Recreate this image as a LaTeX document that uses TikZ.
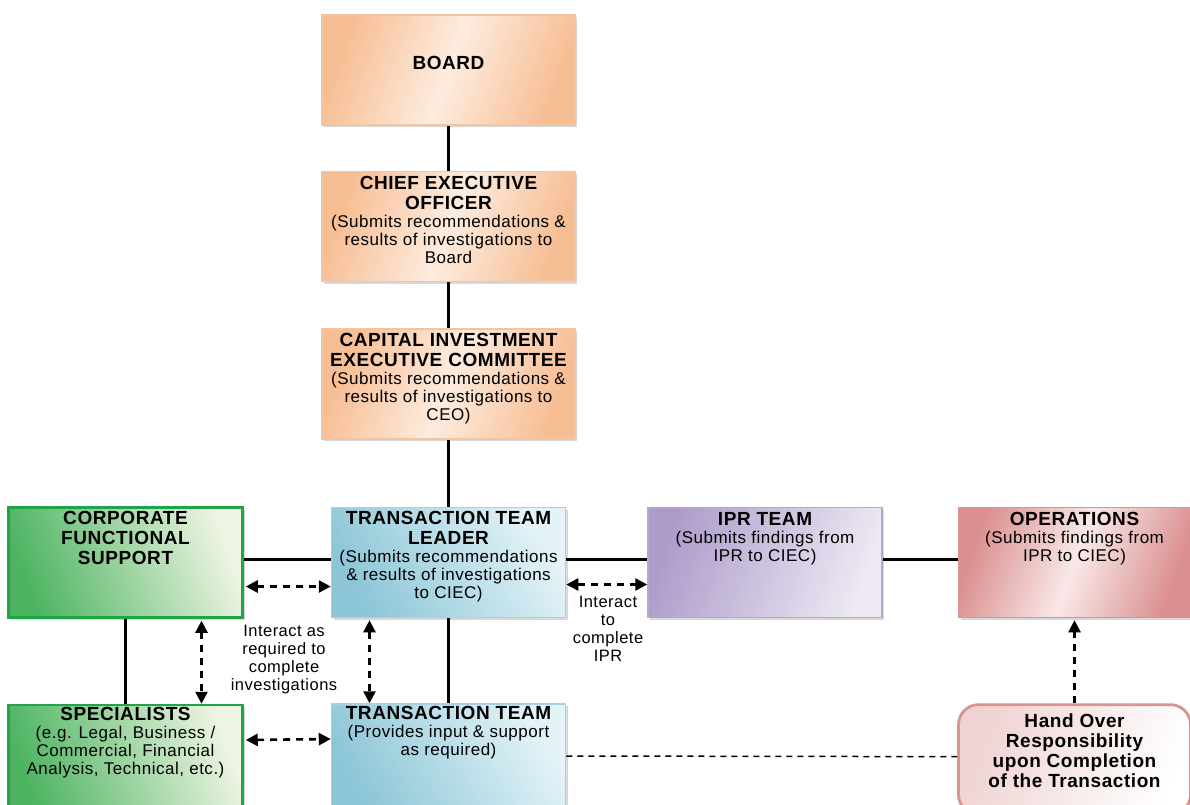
\documentclass[tikz,border=0pt]{standalone}
\usepackage{fontspec}
\setmainfont{Liberation Sans}[LetterSpace=3.0]
\usepackage{tikz}
\usetikzlibrary{positioning, arrows.meta, shadows}
\usepackage{xcolor}
\definecolor{orBord}{HTML}{F3C4A0}
\definecolor{orDark}{HTML}{F7BE94}
\definecolor{orLight}{HTML}{FDECDF}
\definecolor{grBord}{HTML}{1FA547}
\definecolor{grDark}{HTML}{4DB462}
\definecolor{grLight}{HTML}{EDF4E2}
\definecolor{blBord}{HTML}{A6D3E2}
\definecolor{blDark}{HTML}{8CC6D7}
\definecolor{blLight}{HTML}{E4F3F8}
\definecolor{puBord}{HTML}{B6A8D0}
\definecolor{puDark}{HTML}{AD9CCA}
\definecolor{puLight}{HTML}{EEE9F4}
\definecolor{rdBord}{HTML}{D89393}
\definecolor{rdDark}{HTML}{DB9090}
\definecolor{rdLight}{HTML}{F9E8E8}
\definecolor{hoFill}{HTML}{F0D2D2}
\tikzstyle{ubox} = [%
  rectangle,
  minimum width=234pt,
  minimum height=110pt,
  align=center,
  text centered,
  inner sep=2pt,
  line width=1.5pt,
  drop shadow={shadow xshift=2pt,shadow yshift=-2pt,fill=black!30,opacity=0.5}
]
\newcommand{\hd}[1]{{\bfseries\fontsize{19}{20.5}\selectfont #1}}

\begin{document}
\begin{tikzpicture}[%
  x=1pt,y=-1pt,
  every node/.style={%
    font=\fontsize{17}{18}\selectfont,
    text=black,
    text centered,
    align=center
  },
  orbox/.style={ubox,minimum width=253pt,draw=orBord,top color=orDark,bottom color=orDark,middle color=orLight,shading angle=70},
  grbox/.style={ubox,draw=grBord,line width=2.5pt,left color=grDark,right color=grLight,shading angle=110},
  blbox/.style={ubox,draw=blBord,left color=blDark,right color=blLight,shading angle=120},
  pubox/.style={ubox,draw=puBord,left color=puDark,right color=puLight,shading angle=70},
  rdbox/.style={ubox,draw=rdBord,top color=rdDark,bottom color=rdDark,middle color=rdLight,shading angle=70},
  hobox/.style={ubox,draw=rdBord,line width=2.8pt,rounded corners=20pt,left color=hoFill,right color=white,shading angle=70,drop shadow={opacity=0}},
  btext/.style={anchor=north,inner sep=0pt},
  link/.style={line width=2.4pt,black},
  twoway/.style={{Triangle[length=12pt,width=12pt]}-{Triangle[length=12pt,width=12pt]},line width=2.6pt,dash pattern=on 7pt off 6pt},
  oneway/.style={-{Triangle[length=12pt,width=12pt]},line width=2.6pt,dash pattern=on 7pt off 6pt},
  plain dash/.style={line width=1.5pt,dash pattern=on 6pt off 5pt}
]
  \useasboundingbox (0,0) rectangle (1190,804);

  % Nodes
  \node[orbox] (board) at (448.5,70) {};
  \node[orbox,below=45pt of board] (ceo) {};
  \node[orbox,below=46pt of ceo] (ciec) {};
  \node[blbox,below=67pt of ciec] (ttl) {};
  \node[blbox,below=85pt of ttl] (tt) {};
  \node[grbox,left=87pt of ttl] (cfs) {};
  \node[grbox,below=85pt of cfs] (spec) {};
  \node[pubox,right=81pt of ttl] (ipr) {};
  \node[rdbox,right=75pt of ipr,minimum width=232pt] (ops) {};
  \node[hobox,below=85pt of ops,minimum width=232pt] (hand) {};

  % Box texts
  \node[btext] (boardT) at ([yshift=-42pt]board.north) {\hd{BOARD}};
  \node[btext] (ceoT) at ([yshift=-5pt]ceo.north) {\hd{CHIEF EXECUTIVE}\\[2pt]\hd{OFFICER}\\(Submits recommendations \&\\results of investigations to\\Board};
  \node[btext] (ciecT) at ([yshift=-5pt]ciec.north) {\hd{CAPITAL INVESTMENT}\\[2pt]\hd{EXECUTIVE COMMITTEE}\\(Submits recommendations \&\\results of investigations to\\CEO)};
  \node[btext] (ttlT) at ([yshift=-4pt]ttl.north) {\hd{TRANSACTION TEAM}\\[2pt]\hd{LEADER}\\(Submits recommendations\\\& results of investigations\\to CIEC)};
  \node[btext] (cfsT) at ([yshift=-5pt]cfs.north) {\hd{CORPORATE}\\[2pt]\hd{FUNCTIONAL}\\[2pt]\hd{SUPPORT}};
  \node[btext] (specT) at ([yshift=-3pt]spec.north) {\hd{SPECIALISTS}\\(e.g. Legal, Business /\\Commercial, Financial\\Analysis, Technical, etc.)};
  \node[btext] (ttT) at ([yshift=-3pt]tt.north) {\hd{TRANSACTION TEAM}\\(Provides input \& support\\as required)};
  \node[btext] (iprT) at ([yshift=-5pt]ipr.north) {\hd{IPR TEAM}\\(Submits findings from\\IPR to CIEC)};
  \node[btext] (opsT) at ([yshift=-5pt]ops.north) {\hd{OPERATIONS}\\(Submits findings from\\IPR to CIEC)};
  \node[btext] (handT) at ([yshift=-10pt]hand.north) {\hd{Hand Over}\\[2pt]\hd{Responsibility}\\[2pt]\hd{upon Completion}\\[2pt]\hd{of the Transaction}};

  % Labels
  \node[font=\fontsize{16.5}{18}\selectfont] (lblA) at (284,660) {Interact as\\required to\\complete\\investigations};
  \node[font=\fontsize{16.5}{18}\selectfont] (lblB) at (608,629) {Interact\\to\\complete\\IPR};

  % Reporting lines
  \draw[link] (board) -- (ceo);
  \draw[link] (ceo) -- (ciec);
  \draw[link] (ciec) -- (ttl);
  \draw[link] (ttl) -- (tt);
  \draw[link] ([yshift=3pt]cfs.east) -- ([yshift=3pt]ttl.west);
  \draw[link] ([yshift=3pt]ttl.east) -- ([yshift=3pt]ipr.west);
  \draw[link] ([yshift=3pt]ipr.east) -- ([yshift=3pt]ops.west);
  \draw[link] (cfs) -- (spec);

  % Interaction edges
  \draw[twoway] ([xshift=2pt,yshift=-24pt]cfs.east) -- ([yshift=-24pt]ttl.west);
  \draw[twoway] ([yshift=-22pt]ttl.east) -- ([yshift=-22pt]ipr.west);
  \draw[twoway] ([xshift=76pt,yshift=-2pt]cfs.south) -- ([xshift=76pt]spec.north);
  \draw[twoway] ([xshift=-79pt,yshift=-2pt]ttl.south) -- ([xshift=-79pt]tt.north);
  \draw[twoway] ([xshift=2pt,yshift=20pt]spec.east) -- ([yshift=20pt]tt.west);
  \draw[plain dash] ([yshift=3pt]tt.east) -- ([yshift=3pt]hand.west);
  \draw[oneway] (hand.north) -- ([yshift=-2pt]ops.south);

\end{tikzpicture}
\end{document}
